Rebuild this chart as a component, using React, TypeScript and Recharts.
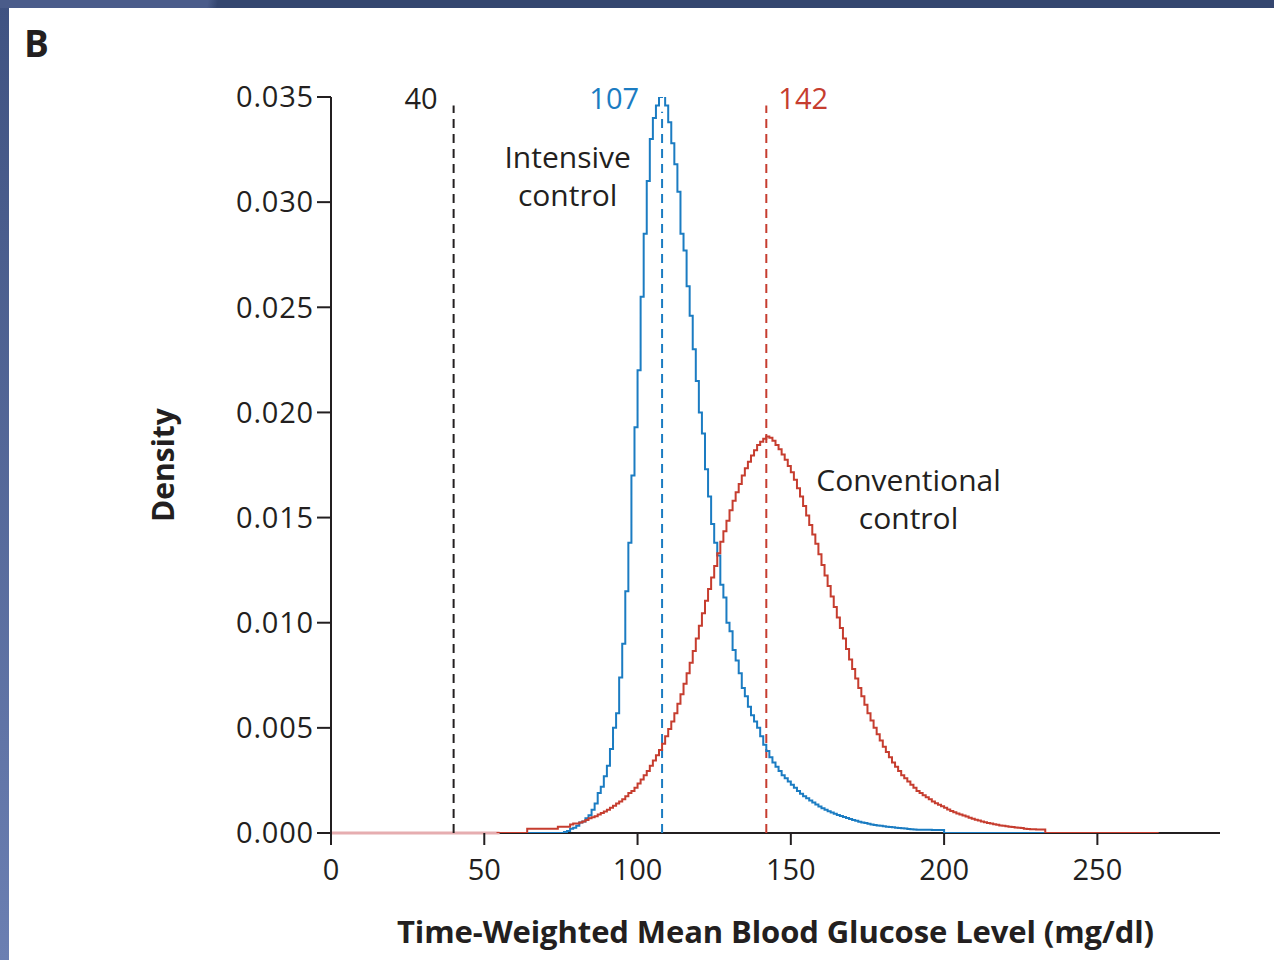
import React from 'react';
import { LineChart, Line, XAxis, YAxis, ReferenceLine, ReferenceDot } from 'recharts';

// Bin starts (mg/dl) of the histogram-style density estimate (1 mg/dl bins)
const glucoseBins = [
  54, 55, 56, 57, 58, 59, 60, 61, 62, 63,
  64, 65, 66, 67, 68, 69, 70, 71, 72, 73,
  74, 75, 76, 77, 78, 79, 80, 81, 82, 83,
  84, 85, 86, 87, 88, 89, 90, 91, 92, 93,
  94, 95, 96, 97, 98, 99, 100, 101, 102, 103,
  104, 105, 106, 107, 108, 109, 110, 111, 112, 113,
  114, 115, 116, 117, 118, 119, 120, 121, 122, 123,
  124, 125, 126, 127, 128, 129, 130, 131, 132, 133,
  134, 135, 136, 137, 138, 139, 140, 141, 142, 143,
  144, 145, 146, 147, 148, 149, 150, 151, 152, 153,
  154, 155, 156, 157, 158, 159, 160, 161, 162, 163,
  164, 165, 166, 167, 168, 169, 170, 171, 172, 173,
  174, 175, 176, 177, 178, 179, 180, 181, 182, 183,
  184, 185, 186, 187, 188, 189, 190, 191, 192, 193,
  194, 195, 196, 197, 198, 199, 200, 201, 202, 203,
  204, 205, 206, 207, 208, 209, 210, 211, 212, 213,
  214, 215, 216, 217, 218, 219, 220, 221, 222, 223,
  224, 225, 226, 227, 228, 229, 230, 231, 232, 233,
  270,
];

// Density values in units of 0.001
const intensiveDensity = [
  null, null, null, null, null, null, null, null, null, null,
  0, 0, 0, 0, 0, 0, 0, 0, 0, 0,
  0, 0, 0.05, 0.1, 0.2, 0.25, 0.35, 0.5, 0.55, 0.7,
  0.85, 1.1, 1.4, 1.9, 2.2, 2.7, 3.2, 4.0, 5.0, 5.7,
  7.4, 9.0, 11.5, 13.8, 17.0, 19.3, 22.0, 25.5, 28.5, 31.0,
  33.0, 34.0, 34.6, 35.0, 35.1, 34.6, 33.8, 32.8, 31.8, 30.5,
  28.5, 27.7, 26.0, 24.6, 23.0, 21.5, 20.0, 19.0, 17.3, 16.0,
  14.7, 13.8, 13.2, 11.8, 11.2, 10.0, 9.6, 8.7, 8.2, 7.6,
  6.9, 6.5, 6.0, 5.6, 5.3, 5.0, 4.6, 4.2, 3.9, 3.6,
  3.35, 3.15, 2.95, 2.75, 2.6, 2.45, 2.3, 2.15, 2.0, 1.87,
  1.75, 1.65, 1.55, 1.45, 1.35, 1.26, 1.18, 1.1, 1.03, 0.97,
  0.91, 0.86, 0.81, 0.76, 0.71, 0.66, 0.62, 0.58, 0.54, 0.5,
  0.47, 0.44, 0.41, 0.38, 0.36, 0.34, 0.32, 0.3, 0.28, 0.27,
  0.25, 0.24, 0.22, 0.21, 0.19, 0.18, 0.17, 0.16, 0.16, 0.15,
  0.15, 0.15, 0.14, 0.14, 0.14, 0.14, 0, 0, 0, 0,
  0, 0, 0, 0, 0, 0, 0, 0, 0, 0,
  0, 0, 0, 0, 0, 0, 0, 0, 0, 0,
  0, 0, 0, 0, 0, 0, 0, 0, 0, 0,
  null,
];

const conventionalDensity = [
  0, 0, 0, 0, 0, 0, 0, 0, 0, 0,
  0.2, 0.2, 0.2, 0.2, 0.2, 0.2, 0.2, 0.2, 0.2, 0.2,
  0.3, 0.3, 0.3, 0.3, 0.4, 0.45, 0.45, 0.5, 0.55, 0.62,
  0.7, 0.75, 0.8, 0.88, 0.95, 1.02, 1.1, 1.2, 1.3, 1.4,
  1.5, 1.6, 1.75, 1.9, 2.0, 2.15, 2.35, 2.55, 2.75, 2.95,
  3.2, 3.45, 3.7, 3.95, 4.25, 4.6, 4.95, 5.3, 5.7, 6.15,
  6.6, 7.1, 7.6, 8.1, 8.65, 9.25, 9.85, 10.45, 11.05, 11.6,
  12.15, 12.7, 13.3, 13.85, 14.35, 14.85, 15.35, 15.8, 16.2, 16.6,
  17.0, 17.35, 17.65, 17.95, 18.2, 18.45, 18.6, 18.75, 18.85, 18.8,
  18.65, 18.45, 18.25, 18.0, 17.75, 17.45, 17.15, 16.8, 16.4, 16.0,
  15.55, 15.1, 14.65, 14.2, 13.75, 13.25, 12.75, 12.25, 11.75, 11.25,
  10.75, 10.25, 9.75, 9.25, 8.75, 8.25, 7.8, 7.35, 6.9, 6.5,
  6.1, 5.7, 5.35, 5.0, 4.7, 4.4, 4.1, 3.85, 3.6, 3.35,
  3.15, 2.95, 2.75, 2.6, 2.45, 2.3, 2.15, 2.0, 1.9, 1.8,
  1.7, 1.6, 1.5, 1.42, 1.34, 1.27, 1.2, 1.12, 1.05, 0.99,
  0.93, 0.88, 0.83, 0.78, 0.73, 0.68, 0.63, 0.59, 0.55, 0.51,
  0.48, 0.45, 0.42, 0.39, 0.36, 0.34, 0.32, 0.3, 0.28, 0.26,
  0.25, 0.24, 0.2, 0.19, 0.18, 0.18, 0.17, 0.17, 0.17, 0,
  0,
];

const xTicks = [0, 50, 100, 150, 200, 250];
const yTicks = [0, 5, 10, 15, 20, 25, 30, 35];
const xDomain = [0, 290];

const hypoglycemiaCutoff = 40;
const intensiveMeanPos = 108;
const intensiveMeanLabel = '107';
const conventionalMean = 142;

const data = glucoseBins.map((x, i) => ({
  x,
  intensive: intensiveDensity[i],
  conventional: conventionalDensity[i],
}));

const FONT = '"Open Sans", "DejaVu Sans", sans-serif';
const INK = '#231f20';
const BLUE = '#1b7cc2';
const RED = '#c63d2f';

const makeText = (
  lines: string[],
  opts: { dx: number; dy: number; anchor: 'start' | 'middle' | 'end'; color: string; size: number; lh?: number }
) => (props: any) => {
  const vb = props.viewBox || {};
  const x = (vb.x ?? 0) + opts.dx;
  const y = (vb.y ?? 0) + opts.dy;
  return (
    <text
      x={x}
      y={y}
      textAnchor={opts.anchor}
      dominantBaseline="central"
      fill={opts.color}
      fontSize={opts.size}
      fontFamily={FONT}
    >
      {lines.map((l, i) => (
        <tspan key={i} x={x} dy={i === 0 ? 0 : opts.lh}>
          {l}
        </tspan>
      ))}
    </text>
  );
};

export default function App() {
  return (
    <div
      style={{
        position: 'absolute',
        left: 0,
        top: 0,
        width: 1274,
        height: 960,
        overflow: 'hidden',
        background: 'linear-gradient(to bottom, #3f5281, #6b7fb2)',
      }}
    >
      <div
        style={{
          position: 'absolute',
          left: 0,
          top: 0,
          width: 1274,
          height: 8,
          background: 'linear-gradient(100deg, #4a5c8a 0px, #4a5c8a 205px, #34466f 215px, #34466f 1274px)',
        }}
      />
      <div style={{ position: 'absolute', left: 9, top: 8, width: 1265, height: 952, background: '#ffffff' }} />
      <div
        style={{
          position: 'absolute',
          left: 24,
          top: 21,
          fontFamily: FONT,
          fontWeight: 700,
          fontSize: 37,
          lineHeight: '44px',
          color: INK,
        }}
      >
        B
      </div>
      <div style={{ position: 'absolute', left: 0, top: 0 }}>
        <LineChart
          width={1274}
          height={960}
          data={data}
          margin={{ top: 97, right: 54, left: 131, bottom: 0 }}
        >
          <XAxis
            dataKey="x"
            type="number"
            domain={xDomain}
            ticks={xTicks}
            tickSize={12}
            tickMargin={14}
            height={127}
            axisLine={false}
            tickLine={{ stroke: INK, strokeWidth: 2 }}
            tick={{ fontSize: 29, fill: INK, fontFamily: FONT }}
            allowDataOverflow
            label={(props: any) => {
              const vb = props.viewBox || {};
              return (
                <text
                  x={vb.x + vb.width / 2}
                  y={vb.y + 98}
                  textAnchor="middle"
                  dominantBaseline="central"
                  fill={INK}
                  fontSize={31}
                  fontWeight={700}
                  fontFamily={FONT}
                  letterSpacing={-0.1}
                >
                  Time-Weighted Mean Blood Glucose Level (mg/dl)
                </text>
              );
            }}
          />
          <YAxis
            type="number"
            domain={[0, 35]}
            ticks={yTicks}
            tickFormatter={(v: number) => (v / 1000).toFixed(3)}
            tickSize={14}
            tickMargin={3}
            width={200}
            axisLine={{ stroke: INK, strokeWidth: 2 }}
            tickLine={{ stroke: INK, strokeWidth: 2 }}
            tick={{ fontSize: 29, fill: INK, fontFamily: FONT, letterSpacing: 0.8 }}
            allowDataOverflow
            label={(props: any) => {
              const vb = props.viewBox || {};
              const cx = vb.x + 31;
              const cy = vb.y + vb.height / 2;
              return (
                <text
                  x={cx}
                  y={cy}
                  transform={`rotate(-90, ${cx}, ${cy})`}
                  textAnchor="middle"
                  dominantBaseline="central"
                  fill={INK}
                  fontSize={30}
                  fontWeight={700}
                  fontFamily={FONT}
                >
                  Density
                </text>
              );
            }}
          />
          <ReferenceLine
            segment={[{ x: xDomain[0], y: 0 }, { x: xDomain[1], y: 0 }]}
            stroke={INK}
            strokeWidth={2}
          />
          <ReferenceLine
            segment={[{ x: 0, y: 0 }, { x: 55, y: 0 }]}
            stroke="#e6adb0"
            strokeWidth={3}
          />
          <ReferenceLine
            segment={[{ x: hypoglycemiaCutoff, y: 0 }, { x: hypoglycemiaCutoff, y: 34.6 }]}
            stroke={INK}
            strokeWidth={2}
            strokeDasharray="9 6"
          />
          <ReferenceLine
            segment={[{ x: intensiveMeanPos, y: 0 }, { x: intensiveMeanPos, y: 34.3 }]}
            stroke={BLUE}
            strokeWidth={2}
            strokeDasharray="9 6"
          />
          <ReferenceLine
            segment={[{ x: conventionalMean, y: 0 }, { x: conventionalMean, y: 34.6 }]}
            stroke={RED}
            strokeWidth={2}
            strokeDasharray="9 6"
          />
          <Line
            dataKey="intensive"
            type="stepAfter"
            stroke={BLUE}
            strokeWidth={2}
            dot={false}
            activeDot={false}
            isAnimationActive={false}
          />
          <Line
            dataKey="conventional"
            type="stepAfter"
            stroke={RED}
            strokeWidth={2}
            dot={false}
            activeDot={false}
            isAnimationActive={false}
          />
          <ReferenceDot
            x={hypoglycemiaCutoff}
            y={35}
            r={0}
            fill="none"
            stroke="none"
            label={makeText(['40'], { dx: -16, dy: 0, anchor: 'end', color: INK, size: 29 })}
          />
          <ReferenceDot
            x={intensiveMeanPos}
            y={35}
            r={0}
            fill="none"
            stroke="none"
            label={makeText([intensiveMeanLabel], { dx: -23, dy: 0, anchor: 'end', color: BLUE, size: 29 })}
          />
          <ReferenceDot
            x={conventionalMean}
            y={35}
            r={0}
            fill="none"
            stroke="none"
            label={makeText([String(conventionalMean)], { dx: 12, dy: 0, anchor: 'start', color: RED, size: 29 })}
          />
          <ReferenceDot
            x={77.2}
            y={32.2}
            r={0}
            fill="none"
            stroke="none"
            label={makeText(['Intensive', 'control'], { dx: 0, dy: 0, anchor: 'middle', color: INK, size: 30, lh: 38 })}
          />
          <ReferenceDot
            x={188.4}
            y={16.85}
            r={0}
            fill="none"
            stroke="none"
            label={makeText(['Conventional', 'control'], { dx: 0, dy: 0, anchor: 'middle', color: INK, size: 30, lh: 38 })}
          />
        </LineChart>
      </div>
    </div>
  );
}
